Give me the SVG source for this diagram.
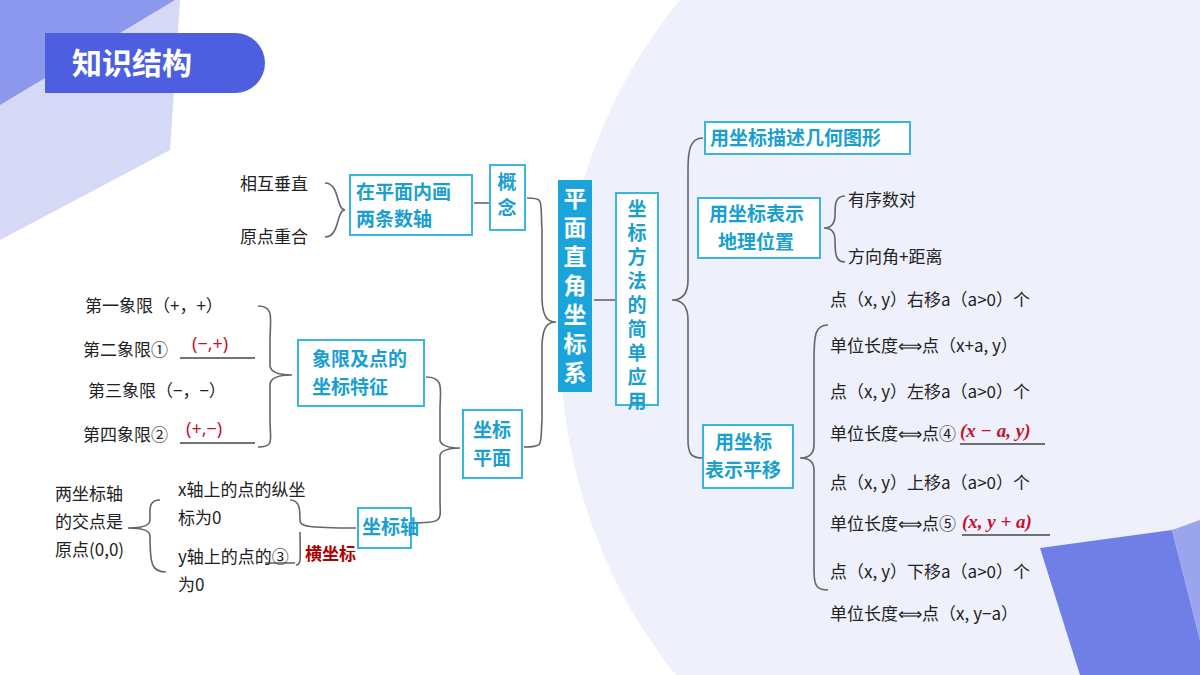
<svg xmlns="http://www.w3.org/2000/svg" width="1200" height="675" viewBox="0 0 1200 675">
<style>
.t{font-family:"Noto Sans CJK SC","Noto Sans",sans-serif;font-size:17px;fill:#222}
.c{font-family:"Noto Sans CJK SC",sans-serif;font-size:19px;fill:#1a9fd0;font-weight:bold}
.bx{fill:#fff;stroke:#3ab5e0;stroke-width:2}
.ln{fill:none;stroke:#666;stroke-width:1.6}
.r{font-family:"Liberation Serif",serif;font-size:19px;fill:#c8102e;font-weight:bold;font-style:italic}
.rs{font-family:"Noto Sans",sans-serif;font-size:18px;fill:#c8102e}
.ul{stroke:#444;stroke-width:1.3}
</style>
<rect width="1200" height="675" fill="#fff"/>
<ellipse cx="1010" cy="340" rx="450" ry="500" fill="#eef0fb"/>
<polygon points="0,0 180,0 170,150 0,240" fill="#d5d9f6"/>
<polygon points="0,0 175,0 0,105" fill="#8c98ee"/>
<polygon points="1040,548 1172,530 1200,640 1200,675 1080,675" fill="#6f7fe6"/>
<polygon points="1172,530 1200,520 1200,640" fill="#9aa5ee"/>
<g id="title"><path d="M45,33 H235 A30,30 0 0 1 235,93 H45 Z" fill="#4d5fe0"/>
<text x="72" y="74" font-family="Noto Sans CJK SC,sans-serif" font-size="30" font-weight="bold" fill="#fff">知识结构</text></g>

<g id="connectors">
<path class="ln" d="M325,183 C340,183 336,210 345,210 C336,210 340,237 325,237"/>
<path class="ln" d="M474,203 H490"/>
<path class="ln" d="M527,198 C545,198 540,200 542,230 L542,300 C543,318 548,322 556,322 C548,322 543,326 542,344 L542,420 C540,445 545,447 524,447"/>
<path class="ln" d="M258,306 C275,306 270,320 270,340 L270,365 C270,372 278,375 292,375 C278,375 270,378 270,385 L270,420 C270,440 275,447 258,447"/>
<path class="ln" d="M426,377 C445,377 440,390 440,410 L440,440 C440,445 448,448 460,448 C448,448 440,451 440,456 L440,500 C440,520 445,523 412,523"/>
<path class="ln" d="M160,500 C148,500 150,510 150,520 C150,526 140,528 128,528 C140,528 150,530 150,536 C150,565 152,572 166,572"/>
<path class="ln" d="M290,500 C300,500 300,510 300,520 C300,526 305,528 356,528 M300,532 C300,555 302,565 296,565"/>
<path class="ln" d="M594,300 H616"/>
<path class="ln" d="M703,138 C690,138 688,150 688,170 L688,280 C688,296 680,300 672,300 C680,300 688,304 688,320 L688,440 C688,455 692,458 703,458"/>
<path class="ln" d="M845,196 C835,196 835,205 835,215 C835,225 830,228 824,228 C830,228 835,231 835,240 C835,255 836,262 845,262"/>
<path class="ln" d="M828,325 C815,325 814,335 814,360 L814,445 C814,455 808,458 800,458 C808,458 814,461 814,470 L814,570 C814,585 816,590 828,590"/>
</g>

<g id="n1"><text class="t" x="240" y="190">相互垂直</text><text class="t" x="240" y="243">原点重合</text></g>
<g id="n2"><rect class="bx" x="350" y="175" width="122" height="60"/><text class="c" x="356" y="199">在平面内画</text><text class="c" x="356" y="226">两条数轴</text></g>
<g id="n3"><rect class="bx" x="490" y="165" width="35" height="65"/><text class="c" x="507" y="172" writing-mode="vertical-rl" letter-spacing="7">概念</text></g>
<g id="main"><rect x="558" y="180" width="34" height="212" fill="#1ba3dc"/>
<text font-family="Noto Sans CJK SC,sans-serif" font-size="23" font-weight="bold" fill="#fff" x="575" y="187" writing-mode="vertical-rl" letter-spacing="6">平面直角坐标系</text></g>
<g id="n4"><text class="t" x="85" y="312">第一象限（+，+）</text>
<text class="t" x="83" y="356">第二象限①</text><text class="rs" x="192" y="350">(−,+)</text><line class="ul" x1="180" y1="358" x2="255" y2="358"/>
<text class="t" x="88" y="397">第三象限（−，−）</text>
<text class="t" x="83" y="441">第四象限②</text><text class="rs" x="186" y="435">(+,−)</text><line class="ul" x1="180" y1="443" x2="255" y2="443"/></g>
<g id="n5"><rect class="bx" x="298" y="340" width="126" height="66"/><text class="c" x="312" y="366">象限及点的</text><text class="c" x="312" y="394">坐标特征</text></g>
<g id="n6"><rect class="bx" x="463" y="410" width="59" height="68"/><text class="c" x="473" y="437">坐标</text><text class="c" x="473" y="465">平面</text></g>
<g id="n7"><rect class="bx" x="358" y="508" width="53" height="40"/><text class="c" x="362" y="534">坐标轴</text></g>
<g id="n8"><text class="t" x="55" y="500">两坐标轴</text><text class="t" x="55" y="528">的交点是</text><text class="t" x="55" y="556">原点(0,0)</text></g>
<g id="n9"><text class="t" x="178" y="496">x轴上的点的纵坐</text><text class="t" x="178" y="524">标为0</text>
<text class="t" x="178" y="563">y轴上的点的③</text><line class="ul" x1="265" y1="563" x2="295" y2="563"/>
<text x="305" y="560" font-family="Noto Sans CJK SC,sans-serif" font-size="17" font-weight="bold" fill="#b00000">横坐标</text>
<text class="t" x="178" y="591">为0</text></g>
<g id="n10"><rect class="bx" x="616" y="193" width="42" height="212"/>
<text class="c" x="637" y="199" font-size="18" writing-mode="vertical-rl" letter-spacing="5">坐标方法的简单应用</text></g>
<g id="n11"><rect class="bx" x="705" y="122" width="205" height="32"/><text class="c" x="710" y="145">用坐标描述几何图形</text></g>
<g id="n12"><rect class="bx" x="698" y="198" width="122" height="60"/><text class="c" x="709" y="221">用坐标表示</text><text class="c" x="718" y="249">地理位置</text></g>
<g id="n13"><text class="t" x="848" y="206">有序数对</text><text class="t" x="848" y="263">方向角+距离</text></g>
<g id="n14"><rect class="bx" x="703" y="425" width="90" height="63"/><text class="c" x="715" y="449">用坐标</text><text class="c" x="705" y="477">表示平移</text></g>
<g id="n15">
<text class="t" x="830" y="306">点（x, y）右移a（a&gt;0）个</text>
<text class="t" x="830" y="352">单位长度⟺点（x+a, y）</text>
<text class="t" x="830" y="398">点（x, y）左移a（a&gt;0）个</text>
<text class="t" x="830" y="440">单位长度⟺点④</text><text class="r" x="960" y="437">(x − a, y)</text><line class="ul" x1="960" y1="444" x2="1045" y2="444"/>
<text class="t" x="830" y="489">点（x, y）上移a（a&gt;0）个</text>
<text class="t" x="830" y="530">单位长度⟺点⑤</text><text class="r" x="962" y="528">(x, y + a)</text><line class="ul" x1="962" y1="535" x2="1050" y2="535"/>
<text class="t" x="830" y="578">点（x, y）下移a（a&gt;0）个</text>
<text class="t" x="830" y="620">单位长度⟺点（x, y−a）</text></g>
</svg>
